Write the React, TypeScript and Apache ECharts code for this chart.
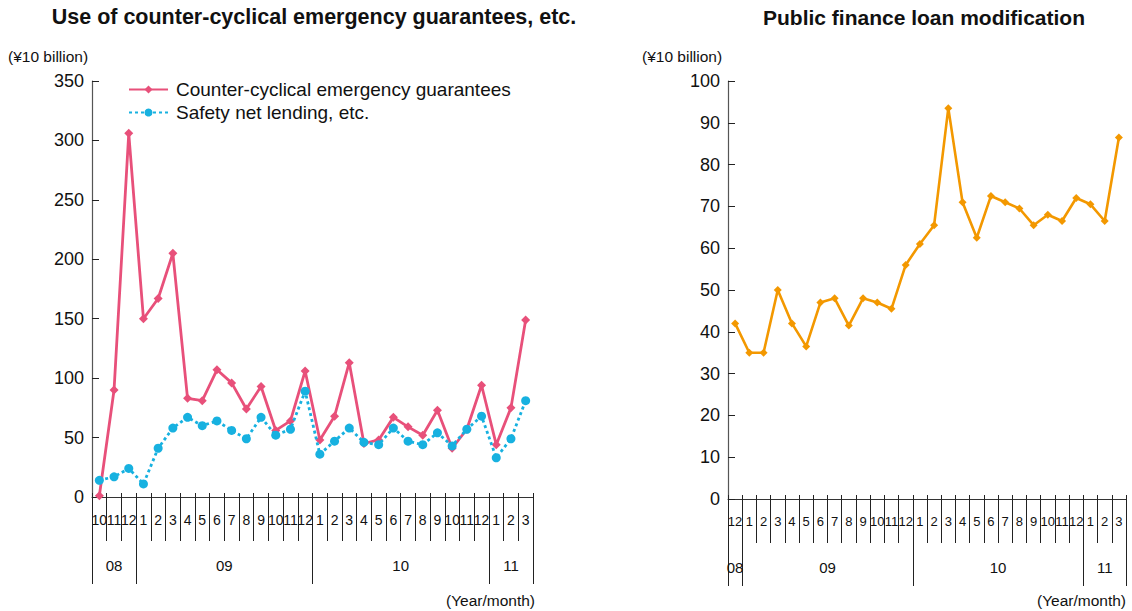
import React, { useEffect, useRef } from "react";
import * as echarts from "echarts";

// Periods are "yy/m" (fiscal-year tiers are grouped by the yy part)
const guaranteePeriods = [
  "08/10", "08/11", "08/12",
  "09/1", "09/2", "09/3", "09/4", "09/5", "09/6", "09/7", "09/8", "09/9", "09/10", "09/11", "09/12",
  "10/1", "10/2", "10/3", "10/4", "10/5", "10/6", "10/7", "10/8", "10/9", "10/10", "10/11", "10/12",
  "11/1", "11/2", "11/3",
];

// ¥10 billion
const counterCyclicalGuarantees = [
  1, 90, 306, 150, 167, 205, 83, 81, 107, 96, 74, 93, 56, 64, 106,
  48, 68, 113, 45, 48, 67, 59, 52, 73, 41, 57, 94, 44, 75, 149,
];

const safetyNetLending = [
  14, 17, 24, 11, 41, 58, 67, 60, 64, 56, 49, 67, 52, 57, 89,
  36, 47, 58, 46, 44, 58, 47, 44, 54, 43, 57, 68, 33, 49, 81,
];

const modificationPeriods = [
  "08/12",
  "09/1", "09/2", "09/3", "09/4", "09/5", "09/6", "09/7", "09/8", "09/9", "09/10", "09/11", "09/12",
  "10/1", "10/2", "10/3", "10/4", "10/5", "10/6", "10/7", "10/8", "10/9", "10/10", "10/11", "10/12",
  "11/1", "11/2", "11/3",
];

const publicFinanceLoanModification = [
  42, 35, 35, 50, 42, 36.5, 47, 48, 41.5, 48, 47, 45.5, 56,
  61, 65.5, 93.5, 71, 62.5, 72.5, 71, 69.5, 65.5, 68, 66.5, 72,
  70.5, 66.5, 86.5,
];

const SERIES_GUARANTEE = "Counter-cyclical emergency guarantees";
const SERIES_SAFETY_NET = "Safety net lending, etc.";
const SERIES_MODIFICATION = "Public finance loan modification";

const FONT = "'Liberation Sans', Arial, Helvetica, sans-serif";
const NARROW_FONT = "'Liberation Sans Narrow', 'Liberation Sans', Arial, sans-serif";
const INK = "#111";
const AXIS_GREY = "#555";

const RED = "#e8507a";
const BLUE = "#17b1e0";
const ORANGE = "#f39800";

type YearSpan = { year: string; start: number; end: number };

function yearSpans(periods: string[]): YearSpan[] {
  const spans: YearSpan[] = [];
  periods.forEach((p, i) => {
    const year = p.split("/")[0];
    const last = spans[spans.length - 1];
    if (last && last.year === year) last.end = i + 1;
    else spans.push({ year, start: i, end: i + 1 });
  });
  return spans;
}

// Two-tier x axis: months on a category axis, fiscal years on a value axis
function buildXAxes(gridIndex: number, periods: string[], monthFontSize: number) {
  const spans = yearSpans(periods);
  const boundaries = [0, ...spans.map((s) => s.end)];
  const mids = spans.map((s) => (s.start + s.end) / 2);
  const yearAt = (v: number) => {
    const s = spans.find((sp) => Math.abs((sp.start + sp.end) / 2 - v) < 1e-6);
    return s ? s.year : "";
  };
  return [
    {
      type: "category",
      gridIndex,
      data: periods,
      boundaryGap: true,
      axisLine: { show: true, lineStyle: { color: "#333", width: 1 } },
      axisTick: { show: true, interval: 0, length: 44, lineStyle: { color: "#222", width: 1 } },
      axisLabel: {
        interval: 0,
        formatter: (v: string) => v.split("/")[1],
        margin: 16,
        fontSize: monthFontSize,
        fontFamily: NARROW_FONT,
        color: INK,
      },
      splitLine: { show: false },
    },
    {
      type: "value",
      gridIndex,
      position: "bottom",
      min: 0,
      max: periods.length,
      axisLine: { show: false },
      splitLine: { show: false },
      axisTick: {
        show: true,
        customValues: boundaries,
        length: 87,
        lineStyle: { color: "#222", width: 1 },
      },
      axisLabel: {
        customValues: mids,
        formatter: (v: number) => yearAt(v),
        margin: 61,
        fontSize: 15,
        fontFamily: FONT,
        color: INK,
      },
    },
    // short stubs of the month dividers rising above the axis line
    {
      type: "category",
      gridIndex,
      data: periods,
      boundaryGap: true,
      position: "bottom",
      axisLine: { show: false },
      axisTick: { show: true, inside: true, interval: 0, length: 4, lineStyle: { color: "#222", width: 1 } },
      axisLabel: { show: false },
      splitLine: { show: false },
    },
  ];
}

function buildYAxis(gridIndex: number, max: number, interval: number) {
  return {
    type: "value",
    gridIndex,
    min: 0,
    max,
    interval,
    axisLine: { show: true, lineStyle: { color: AXIS_GREY, width: 1.2 } },
    axisTick: { show: true, inside: true, length: 7, lineStyle: { color: "#222" } },
    axisLabel: { margin: 8, fontSize: 18, fontFamily: FONT, color: INK },
    splitLine: { show: false },
  };
}

function textEl(text: string, x: number, y: number, size: number, align: string, weight = "normal") {
  return {
    type: "text",
    x,
    y,
    style: {
      text,
      fill: INK,
      font: `${weight} ${size}px ${FONT}`,
      align,
      verticalAlign: "middle",
    },
  };
}

export default function App() {
  const ref = useRef<HTMLDivElement>(null);

  useEffect(() => {
    if (!ref.current) return;
    const chart = echarts.init(ref.current, undefined, { renderer: "svg" });

    const option = {
      animation: false,
      backgroundColor: "#ffffff",
      grid: [
        { left: 92, right: 599, top: 81, bottom: 114 },
        { left: 728, right: 6, top: 81, bottom: 112 },
      ],
      xAxis: [
        ...buildXAxes(0, guaranteePeriods, 14),
        ...buildXAxes(1, modificationPeriods, 13),
      ],
      yAxis: [buildYAxis(0, 350, 50), buildYAxis(1, 100, 10)],
      legend: {
        data: [SERIES_GUARANTEE, SERIES_SAFETY_NET],
        orient: "vertical",
        left: 123,
        top: 75,
        itemWidth: 39,
        itemHeight: 10,
        itemGap: 4,
        textStyle: { fontSize: 19, fontFamily: FONT, color: INK, padding: [0, 0, 0, 3] },
      },
      series: [
        {
          name: SERIES_GUARANTEE,
          type: "line",
          xAxisIndex: 0,
          yAxisIndex: 0,
          data: counterCyclicalGuarantees,
          symbol: "diamond",
          symbolSize: 9,
          lineStyle: { color: RED, width: 2.8 },
          itemStyle: { color: RED },
          z: 3,
        },
        {
          name: SERIES_SAFETY_NET,
          type: "line",
          xAxisIndex: 0,
          yAxisIndex: 0,
          data: safetyNetLending,
          symbol: "circle",
          symbolSize: 9,
          lineStyle: { color: BLUE, width: 2.8, type: [3, 3] },
          itemStyle: { color: BLUE },
          z: 4,
        },
        {
          name: SERIES_MODIFICATION,
          type: "line",
          xAxisIndex: 3,
          yAxisIndex: 1,
          data: publicFinanceLoanModification,
          symbol: "diamond",
          symbolSize: 8,
          lineStyle: { color: ORANGE, width: 2.6 },
          itemStyle: { color: ORANGE },
        },
      ],
      graphic: [
        textEl("Use of counter-cyclical emergency guarantees, etc.", 314, 17, 21.5, "center", "bold"),
        textEl("Public finance loan modification", 924, 17, 21, "center", "bold"),
        textEl("(¥10 billion)", 8, 56, 15.5, "left"),
        textEl("(¥10 billion)", 642, 56, 15.5, "left"),
        textEl("(Year/month)", 535, 600, 15.5, "right"),
        textEl("(Year/month)", 1126, 600, 15.5, "right"),
      ],
    };

    chart.setOption(option as any);
    return () => chart.dispose();
  }, []);

  return (
    <div
      ref={ref}
      style={{ position: "fixed", left: 0, top: 0, width: 1132, height: 611, background: "#fff" }}
    />
  );
}
